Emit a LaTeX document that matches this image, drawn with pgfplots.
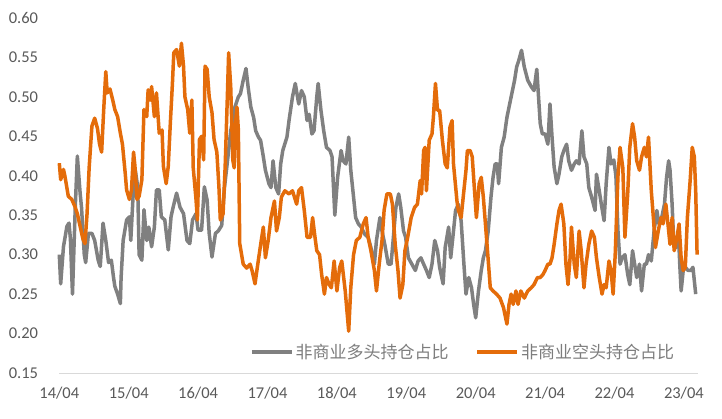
\documentclass[border=0pt]{standalone}
\usepackage{fontspec}
\setmainfont{Carlito}
\newfontfamily\cjk{Noto Sans CJK SC}
\usepackage{pgfplots}
\pgfplotsset{compat=1.18}
\definecolor{greyline}{RGB}{128,128,128}
\definecolor{orangeline}{RGB}{228,108,10}
\definecolor{ticktext}{RGB}{89,89,89}
\definecolor{legtext}{RGB}{125,125,125}
\definecolor{axisline}{RGB}{217,217,217}
\begin{document}
\begin{tikzpicture}
\path[use as bounding box] (-59.3bp,-46bp) rectangle (662.7bp,373bp);
\begin{axis}[
  scale only axis, width=638.5bp, height=355bp,
  xmin=0, xmax=9.2, ymin=0.15, ymax=0.60,
  axis x line*=bottom, axis y line*=left,
  separate axis lines,
  x axis line style={draw=axisline, line width=1bp, -},
  y axis line style={draw=none},
  major tick length=0pt,
  xtick={0,1,2,3,4,5,6,7,8,9},
  xticklabels={14/04,15/04,16/04,17/04,18/04,19/04,20/04,21/04,22/04,23/04},
  ytick={0.15,0.2,0.25,0.3,0.35,0.4,0.45,0.5,0.55,0.6},
  yticklabel style={/pgf/number format/fixed, /pgf/number format/fixed zerofill, /pgf/number format/precision=2},
  /pgf/number format/assume math mode=true,
  tick label style={font=\fontsize{16.5bp}{19bp}\selectfont, text=ticktext},
  yticklabel style={anchor=east, inner sep=0pt, xshift=-21bp},
  xticklabel style={anchor=north, inner sep=0pt, yshift=-14bp},
  clip=false,
  legend columns=2,
  legend style={at={(0.2987,0.059)}, anchor=west, draw=none, fill=none,
    inner sep=0pt, outer sep=0pt, font=\cjk\fontsize{17bp}{20bp}\selectfont,
    text=legtext, cells={anchor=west}, nodes={inner sep=2bp}},
  legend image code/.code={\draw[#1, line width=3.5bp] (0bp,0bp) -- (40bp,0bp);},
]
\addplot[greyline, line width=3.5bp, line join=round] table {
x y
0.00 0.30
0.02 0.263
0.06 0.31
0.11 0.336
0.14 0.34
0.16 0.32
0.19 0.25
0.23 0.36
0.26 0.425
0.30 0.378
0.32 0.36
0.36 0.30
0.38 0.29
0.42 0.327
0.47 0.327
0.51 0.318
0.56 0.293
0.59 0.285
0.63 0.34
0.67 0.318
0.71 0.29
0.75 0.293
0.78 0.272
0.80 0.26
0.84 0.25
0.88 0.238
0.89 0.27
0.92 0.318
0.97 0.344
1.01 0.348
1.03 0.318
1.07 0.386
1.09 0.41
1.13 0.386
1.15 0.30
1.19 0.293
1.22 0.357
1.26 0.318
1.29 0.335
1.33 0.31
1.37 0.335
1.40 0.382
1.44 0.382
1.47 0.348
1.52 0.344
1.57 0.306
1.61 0.348
1.64 0.36
1.69 0.378
1.74 0.36
1.79 0.352
1.84 0.318
1.88 0.314
1.92 0.344
1.97 0.352
2.00 0.331
2.05 0.331
2.09 0.386
2.13 0.369
2.16 0.327
2.20 0.297
2.25 0.327
2.29 0.33
2.34 0.337
2.38 0.385
2.43 0.424
2.47 0.457
2.53 0.487
2.58 0.50
2.61 0.504
2.65 0.521
2.69 0.536
2.72 0.513
2.76 0.487
2.80 0.474
2.83 0.457
2.87 0.449
2.90 0.445
2.94 0.424
2.97 0.407
3.02 0.39
3.05 0.385
3.08 0.419
3.12 0.385
3.16 0.377
3.19 0.415
3.22 0.432
3.28 0.449
3.31 0.47
3.36 0.50
3.40 0.517
3.45 0.491
3.49 0.508
3.53 0.50
3.57 0.47
3.60 0.478
3.64 0.453
3.67 0.457
3.71 0.50
3.73 0.517
3.77 0.483
3.81 0.457
3.85 0.436
3.90 0.432
3.93 0.424
3.97 0.35
4.01 0.398
4.06 0.432
4.09 0.419
4.13 0.415
4.17 0.449
4.20 0.407
4.24 0.373
4.27 0.347
4.31 0.339
4.35 0.335
4.40 0.326
4.45 0.322
4.49 0.309
4.54 0.288
4.57 0.318
4.62 0.347
4.65 0.33
4.69 0.313
4.74 0.288
4.78 0.288
4.81 0.318
4.85 0.36
4.89 0.377
4.92 0.36
4.96 0.33
4.99 0.322
5.03 0.296
5.08 0.288
5.13 0.28
5.17 0.292
5.21 0.296
5.25 0.288
5.29 0.28
5.33 0.271
5.37 0.288
5.41 0.318
5.45 0.305
5.48 0.284
5.53 0.263
5.56 0.309
5.61 0.335
5.64 0.296
5.68 0.33
5.71 0.356
5.75 0.364
5.79 0.343
5.83 0.288
5.86 0.25
5.90 0.271
5.94 0.258
5.97 0.237
6.00 0.22
6.04 0.254
6.08 0.28
6.11 0.296
6.14 0.305
6.18 0.33
6.22 0.373
6.25 0.398
6.28 0.415
6.31 0.415
6.33 0.39
6.37 0.436
6.41 0.449
6.45 0.474
6.48 0.487
6.52 0.504
6.56 0.521
6.59 0.538
6.62 0.546
6.66 0.559
6.70 0.538
6.75 0.521
6.80 0.513
6.84 0.508
6.88 0.535
6.93 0.466
6.96 0.453
7.00 0.453
7.04 0.44
7.07 0.491
7.10 0.449
7.13 0.411
7.17 0.39
7.20 0.402
7.24 0.424
7.27 0.432
7.31 0.44
7.34 0.419
7.38 0.407
7.42 0.415
7.45 0.419
7.49 0.415
7.53 0.457
7.56 0.424
7.60 0.415
7.63 0.385
7.67 0.373
7.72 0.356
7.74 0.402
7.78 0.381
7.81 0.364
7.85 0.343
7.88 0.39
7.92 0.436
7.95 0.415
7.99 0.42
8.02 0.40
8.05 0.33
8.08 0.288
8.11 0.296
8.15 0.30
8.19 0.275
8.22 0.262
8.26 0.305
8.29 0.288
8.32 0.271
8.36 0.288
8.39 0.254
8.43 0.288
8.46 0.288
8.49 0.30
8.53 0.292
8.57 0.33
8.61 0.356
8.64 0.339
8.68 0.347
8.72 0.364
8.75 0.398
8.78 0.419
8.80 0.407
8.83 0.364
8.85 0.322
8.89 0.309
8.92 0.33
8.94 0.288
8.96 0.254
8.99 0.28
9.02 0.284
9.06 0.28
9.10 0.28
9.13 0.284
9.17 0.25
};
\addlegendentry{非商业多头持仓占比\kern25bp}
\addplot[orangeline, line width=3.5bp, line join=round] table {
x y
0.00 0.416
0.02 0.395
0.06 0.408
0.08 0.40
0.13 0.374
0.18 0.37
0.23 0.36
0.26 0.352
0.30 0.336
0.34 0.32
0.37 0.314
0.40 0.352
0.43 0.41
0.47 0.463
0.51 0.473
0.55 0.46
0.58 0.44
0.61 0.43
0.64 0.484
0.67 0.532
0.69 0.505
0.73 0.51
0.77 0.496
0.80 0.484
0.84 0.475
0.88 0.454
0.91 0.44
0.95 0.403
0.97 0.382
1.01 0.37
1.04 0.382
1.07 0.43
1.09 0.412
1.12 0.37
1.15 0.374
1.19 0.395
1.22 0.484
1.26 0.475
1.28 0.509
1.31 0.496
1.33 0.513
1.37 0.475
1.40 0.505
1.44 0.454
1.48 0.458
1.50 0.412
1.54 0.39
1.57 0.412
1.60 0.467
1.63 0.517
1.65 0.556
1.69 0.56
1.73 0.539
1.76 0.568
1.79 0.539
1.81 0.50
1.85 0.484
1.88 0.454
1.91 0.496
1.93 0.41
1.97 0.37
1.99 0.344
2.02 0.446
2.05 0.45
2.08 0.42
2.10 0.539
2.13 0.535
2.16 0.50
2.20 0.48
2.23 0.446
2.27 0.43
2.30 0.386
2.32 0.344
2.36 0.352
2.39 0.412
2.42 0.496
2.44 0.556
2.47 0.513
2.50 0.42
2.52 0.41
2.54 0.467
2.56 0.487
2.58 0.458
2.60 0.314
2.65 0.288
2.70 0.283
2.75 0.288
2.78 0.279
2.82 0.263
2.86 0.288
2.91 0.318
2.94 0.335
2.97 0.296
3.01 0.318
3.05 0.347
3.10 0.368
3.13 0.33
3.17 0.347
3.20 0.373
3.25 0.381
3.31 0.377
3.36 0.381
3.42 0.364
3.45 0.381
3.49 0.385
3.53 0.356
3.57 0.322
3.62 0.322
3.65 0.347
3.68 0.325
3.71 0.305
3.75 0.30
3.78 0.275
3.82 0.25
3.85 0.271
3.89 0.262
3.92 0.258
3.96 0.292
4.00 0.254
4.04 0.284
4.07 0.292
4.12 0.254
4.17 0.203
4.20 0.258
4.24 0.30
4.28 0.318
4.33 0.322
4.38 0.339
4.42 0.347
4.45 0.322
4.49 0.305
4.54 0.28
4.57 0.254
4.60 0.28
4.62 0.296
4.65 0.318
4.68 0.356
4.72 0.377
4.77 0.377
4.80 0.364
4.84 0.313
4.88 0.28
4.91 0.245
4.95 0.262
4.98 0.305
5.02 0.322
5.07 0.347
5.12 0.36
5.16 0.364
5.20 0.394
5.22 0.377
5.25 0.432
5.27 0.436
5.29 0.381
5.33 0.445
5.37 0.453
5.39 0.474
5.42 0.517
5.45 0.483
5.48 0.483
5.52 0.445
5.56 0.415
5.59 0.41
5.63 0.462
5.66 0.47
5.68 0.415
5.73 0.368
5.75 0.356
5.79 0.347
5.82 0.373
5.86 0.407
5.88 0.432
5.92 0.432
5.95 0.424
5.98 0.385
6.01 0.347
6.05 0.39
6.08 0.398
6.11 0.373
6.14 0.339
6.17 0.305
6.21 0.258
6.25 0.254
6.30 0.25
6.35 0.245
6.40 0.233
6.45 0.212
6.48 0.237
6.51 0.25
6.54 0.237
6.58 0.254
6.61 0.237
6.65 0.254
6.70 0.245
6.75 0.254
6.80 0.258
6.84 0.262
6.89 0.271
6.93 0.271
6.97 0.275
7.00 0.28
7.04 0.288
7.07 0.288
7.10 0.296
7.13 0.313
7.17 0.339
7.20 0.356
7.23 0.364
7.27 0.339
7.30 0.288
7.33 0.262
7.36 0.296
7.38 0.335
7.42 0.288
7.45 0.271
7.49 0.33
7.52 0.305
7.56 0.258
7.59 0.288
7.63 0.313
7.67 0.33
7.71 0.322
7.74 0.296
7.78 0.271
7.82 0.25
7.85 0.262
7.88 0.258
7.92 0.292
7.95 0.28
7.98 0.25
8.01 0.30
8.05 0.40
8.08 0.436
8.12 0.41
8.15 0.322
8.19 0.377
8.22 0.436
8.26 0.466
8.29 0.449
8.32 0.419
8.36 0.407
8.39 0.424
8.43 0.436
8.46 0.424
8.49 0.449
8.53 0.381
8.56 0.347
8.59 0.309
8.63 0.33
8.67 0.347
8.70 0.339
8.74 0.364
8.77 0.339
8.80 0.313
8.83 0.347
8.86 0.305
8.90 0.322
8.93 0.339
8.96 0.296
8.99 0.28
9.02 0.284
9.05 0.347
9.09 0.394
9.12 0.436
9.15 0.424
9.17 0.381
9.19 0.30
};
\addlegendentry{非商业空头持仓占比}
\end{axis}
\end{tikzpicture}
\end{document}
